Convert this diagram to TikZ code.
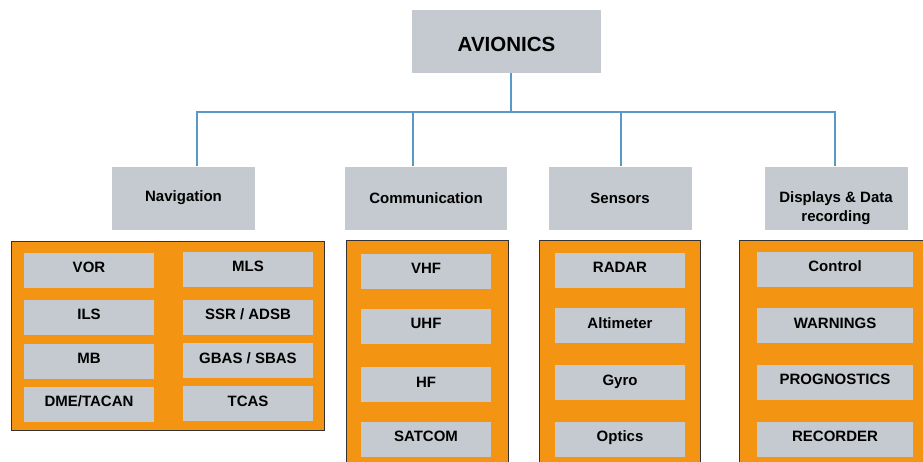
\documentclass[tikz,border=0pt]{standalone}
\usepackage{fontspec}
\setmainfont{Liberation Sans}
\usetikzlibrary{positioning}
\definecolor{boxgray}{HTML}{C4CAD0}
\definecolor{panelorange}{HTML}{F39512}
\definecolor{treeblue}{HTML}{5A98C8}

\begin{document}
\begin{tikzpicture}[x=1pt,y=-1pt,
head/.style={fill=boxgray, inner sep=0pt, minimum width=189pt, minimum height=63pt, text height=20.7pt, text depth=0pt, font=\bfseries\fontsize{20.5}{24}\selectfont},
group/.style={fill=boxgray, inner sep=0pt, minimum width=143pt, minimum height=63pt, align=center, font=\bfseries\fontsize{15}{18.5}\selectfont},
panel/.style={fill=panelorange, draw=black!80, line width=0.8pt, inner sep=0pt, anchor=north west},
item/.style={fill=boxgray, inner sep=0pt, minimum width=130pt, minimum height=35pt, text height=11pt, text depth=6pt, font=\bfseries\fontsize{15}{18}\selectfont},
tree/.style={draw=treeblue, line width=1.4pt}
]
\useasboundingbox (0,0) rectangle (923,461);
\clip (0,0) rectangle (923,461);

\node[head](avionics) at (506.5,41.5){AVIONICS};

\node[group](nav) at (183.5,198){Navigation};
\node[group,minimum width=162pt](comm) at (426,198){Communication};
\node[group](sens) at (620,198){Sensors};
\node[group,text height=46pt,text depth=0pt](disp) at (836,198){Displays \& Data\\recording};

\coordinate (bus) at (511,112);
\draw[tree] ([xshift=4.5pt]avionics.south) -- (bus);
\draw[tree] (bus) -| ([xshift=13.5pt]nav.north);
\draw[tree] (bus) -| ([xshift=-13pt]comm.north);
\draw[tree] (bus) -| ([xshift=1pt]sens.north);
\draw[tree] (bus) -| ([xshift=-1pt]disp.north);

% orange panels
\node[panel,minimum width=313pt,minimum height=189pt](navpanel) at (11,241){};
\node[panel,minimum width=162pt,minimum height=240pt](commpanel) at (346,240){};
\node[panel,minimum width=161pt,minimum height=240pt](senspanel) at (539,240){};
\node[panel,minimum width=200pt,minimum height=240pt](disppanel) at (739,240){};

% navigation
\node[item](vor) at (89,270){VOR};
\node[item](ils) at (89,317){ILS};
\node[item](mb) at (89,361){MB};
\node[item](dme) at (89,404){DME/TACAN};
\node[item](mls) at (248,269){MLS};
\node[item](ssr) at (248,317){SSR / ADSB};
\node[item](gbas) at (248,360.5){GBAS / SBAS};
\node[item](tcas) at (248,403.5){TCAS};

% communication
\node[item](vhf) at (426,271){VHF};
\node[item](uhf) at (426,326){UHF};
\node[item](hf) at (426,384.5){HF};
\node[item](satcom) at (426,439){SATCOM};

% sensors
\node[item](radar) at (620,270){RADAR};
\node[item](alt) at (620,325.5){Altimeter};
\node[item](gyro) at (620,382.5){Gyro};
\node[item](optics) at (620,439){Optics};

% displays & data recording
\node[item,minimum width=156pt](control) at (835,269){Control};
\node[item,minimum width=156pt](warn) at (835,325.5){WARNINGS};
\node[item,minimum width=156pt](prog) at (835,382){PROGNOSTICS};
\node[item,minimum width=156pt](rec) at (835,439){RECORDER};
\end{tikzpicture}
\end{document}
